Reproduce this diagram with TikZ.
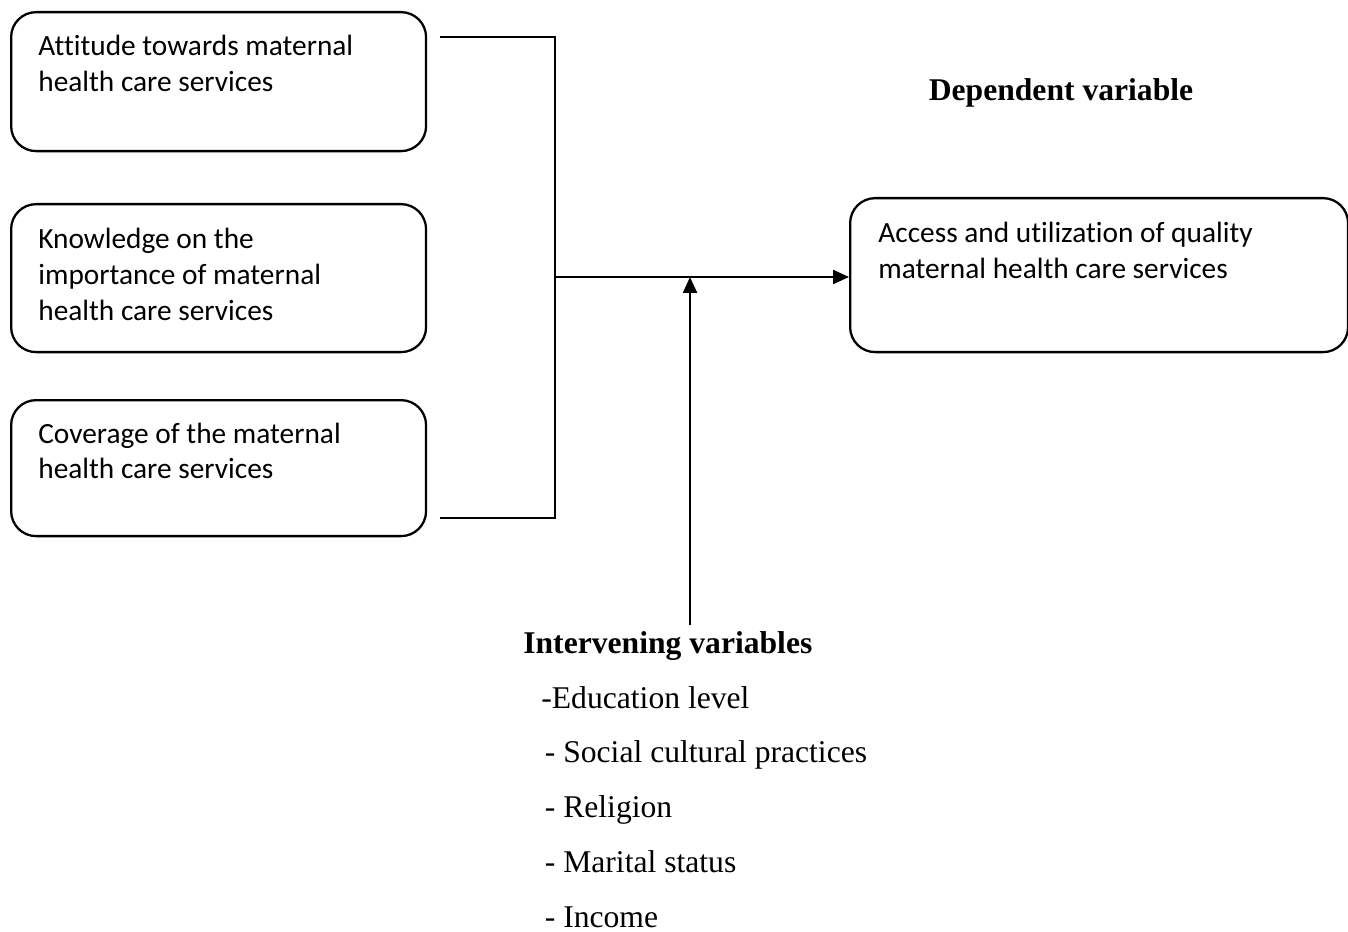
\documentclass[tikz,border=0pt]{standalone}
\usepackage{fontspec}
\setmainfont{Liberation Serif}
\newfontfamily\calibrifont[Ligatures = NoCommon]{Carlito}
\usetikzlibrary{arrows.meta}
\tikzset{varbox/.style = {draw, rounded corners = 0.5cm, line width = 1.3pt, anchor = north west, inner sep = 0}}
\tikzset{boxtext/.style = {anchor = base west, align = left, text width = 8cm, inner sep = 0, execute at begin node = {\spaceskip = 0pt\xspaceskip = 0pt}, font = \calibrifont\fontsize{16.7}{20.3}\selectfont}}
\tikzset{headtext/.style = {inner sep = 0, font = \fontsize{18}{22}\selectfont\bfseries}}
\tikzset{listtext/.style = {anchor = base west, align = left, text width = 8cm, inner sep = 0, execute at begin node = {\spaceskip = 0pt\xspaceskip = 0pt}, font = \fontsize{18}{31.3}\selectfont}}
\tikzset{link/.style = {line width = 1.3pt}}
\tikzset{linkarrow/.style = {-{Triangle[length = 0.32cm, width = 0.28cm]}}}

\begin{document}
\begin{tikzpicture}[x = 0.02cm, y = -0.02cm]
  \useasboundingbox (0, 0) rectangle (1348, 932);
  \node [varbox, minimum width = 8.3cm, minimum height = 2.78cm] (attitude) at (10, 11) {};
  \node [varbox, minimum width = 8.3cm, minimum height = 2.96cm] (knowledge) at (10, 203) {};
  \node [varbox, minimum width = 8.3cm, minimum height = 2.72cm] (coverage) at (10, 399) {};
  \node [varbox, minimum width = 9.96cm, minimum height = 3.08cm] (dependent) at (849, 197) {};
  \node [boxtext] (attitudetext) at (38, 56) {Attitude towards maternal\\health care services};
  \node [boxtext] (knowledgetext) at (38, 249) {Knowledge on the\\importance of maternal\\health care services};
  \node [boxtext] (coveragetext) at (38, 443) {Coverage of the maternal\\health care services};
  \node [boxtext] (dependenttext) at (878, 243) {Access and utilization of quality\\maternal health care services};
  \node [headtext, anchor = base] (dephead) at (1061, 101) {Dependent variable};
  \node [headtext, anchor = base west] (inthead) at (523, 653) {Intervening variables};
  \node [listtext] (intlist) at (541, 708) {-Education level\\\hspace{2pt}- Social cultural practices\\\hspace{2pt}- Religion\\\hspace{2pt}- Marital status\\\hspace{2pt}- Income};
  \coordinate (attend) at (440, 37);
  \coordinate (covend) at (440, 518);
  \coordinate (joint) at (555, 277);
  \coordinate (foot) at (690, 625);
  \draw [link] (attend) -- (attend -| joint) -- (covend -| joint) -- (covend);
  \draw [link, linkarrow] (joint) -- (joint -| dependent.west);
  \draw [link, linkarrow] (foot) -- (foot |- joint);
\end{tikzpicture}
\end{document}
